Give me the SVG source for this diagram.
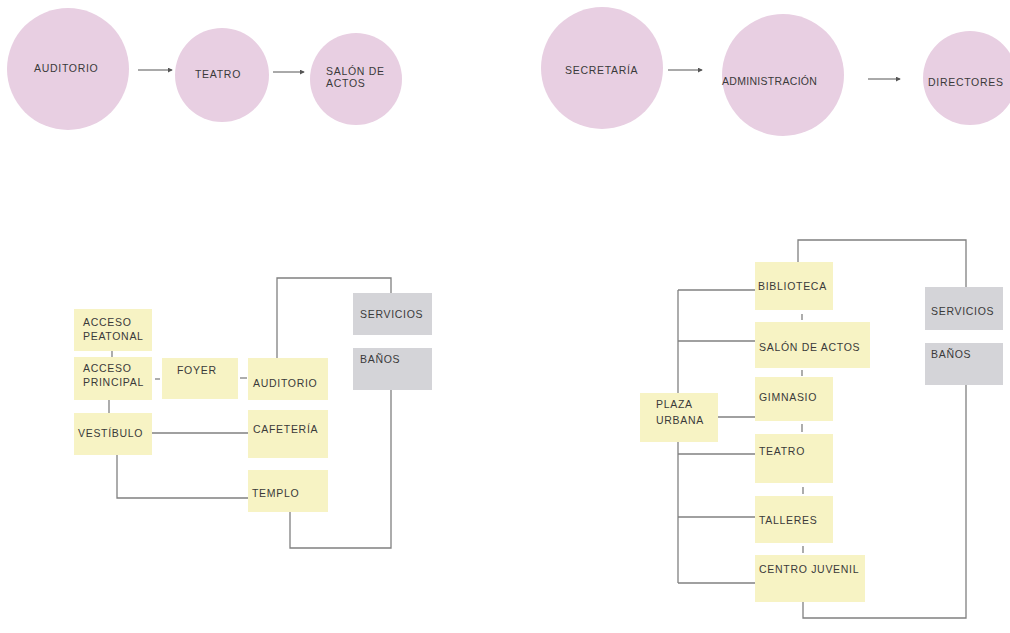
<svg xmlns="http://www.w3.org/2000/svg" width="1010" height="633" viewBox="0 0 1010 633">
<defs>
<marker id="ah" viewBox="0 0 6 6" refX="5" refY="3" markerWidth="5" markerHeight="5" orient="auto" markerUnits="userSpaceOnUse">
<path d="M0,0 L6,3 L0,6 z" fill="#555"/>
</marker>
<style>
.c{fill:#e8cfe2}
.y{fill:#f7f3c4}
.g{fill:#d4d4d8}
.t{font-family:"Liberation Sans",Arial,sans-serif;font-size:10.5px;letter-spacing:0.7px;fill:#3a3a3a}
.l{fill:none;stroke:#808080;stroke-width:1.3}
.a{fill:none;stroke:#555;stroke-width:1;marker-end:url(#ah)}
</style>
</defs>
<rect width="1010" height="633" fill="#ffffff"/>

<g id="connectors">
<line class="a" x1="138" y1="70" x2="172" y2="70"/>
<line class="a" x1="273" y1="72" x2="304" y2="72"/>
<line class="a" x1="668" y1="70" x2="702" y2="70"/>
<line class="a" x1="868" y1="79" x2="900" y2="79"/>

<!-- left bottom -->
<line class="l" x1="112" y1="351" x2="112" y2="357"/>
<line class="l" x1="155" y1="379" x2="160" y2="379"/>
<line class="l" x1="240" y1="378" x2="247" y2="378"/>
<line class="l" x1="109" y1="400" x2="109" y2="413"/>
<line class="l" x1="152" y1="433" x2="248" y2="433"/>
<polyline class="l" points="117,455 117,498 248,498"/>
<polyline class="l" points="277,358 277,278 391,278 391,293"/>
<polyline class="l" points="391,390 391,548 290,548 290,512"/>

<!-- right bottom -->
<polyline class="l" points="798,262 798,240 966,240 966,287"/>
<polyline class="l" points="966,385 966,618 803,618 803,602"/>
<line class="l" x1="802" y1="314" x2="802" y2="320"/>
<line class="l" x1="802" y1="370" x2="802" y2="376"/>
<line class="l" x1="802" y1="424" x2="802" y2="432"/>
<line class="l" x1="803" y1="487" x2="803" y2="494"/>
<line class="l" x1="803" y1="546" x2="803" y2="553"/>
<line class="l" x1="678" y1="290" x2="678" y2="393"/>
<line class="l" x1="678" y1="442" x2="678" y2="583"/>
<line class="l" x1="678" y1="290" x2="755" y2="290"/>
<line class="l" x1="678" y1="341" x2="755" y2="341"/>
<line class="l" x1="718" y1="417" x2="755" y2="417"/>
<line class="l" x1="678" y1="454" x2="755" y2="454"/>
<line class="l" x1="678" y1="517" x2="755" y2="517"/>
<line class="l" x1="678" y1="583" x2="755" y2="583"/>
</g>

<g id="n-auditorio-c"><circle class="c" cx="68" cy="69" r="61"/><text class="t" x="34" y="72">AUDITORIO</text></g>
<g id="n-teatro-c"><circle class="c" cx="222" cy="75" r="47"/><text class="t" x="195" y="78">TEATRO</text></g>
<g id="n-salon-c"><circle class="c" cx="356" cy="79" r="46"/><text class="t" x="326" y="75">SALÓN DE</text><text class="t" x="326" y="87">ACTOS</text></g>
<g id="n-secretaria"><circle class="c" cx="602" cy="68" r="61"/><text class="t" x="565" y="74">SECRETARÍA</text></g>
<g id="n-administracion"><circle class="c" cx="783" cy="75" r="61"/><text class="t" x="722" y="85" style="letter-spacing:0.3px">ADMINISTRACIÓN</text></g>
<g id="n-directores"><circle class="c" cx="970" cy="78" r="47"/><text class="t" x="928" y="86">DIRECTORES</text></g>

<g id="n-acceso-peatonal"><rect class="y" x="74" y="309" width="78" height="42"/><text class="t" x="83" y="326">ACCESO</text><text class="t" x="83" y="340">PEATONAL</text></g>
<g id="n-acceso-principal"><rect class="y" x="74" y="357" width="78" height="43"/><text class="t" x="83" y="372">ACCESO</text><text class="t" x="83" y="386">PRINCIPAL</text></g>
<g id="n-foyer"><rect class="y" x="162" y="358" width="76" height="41"/><text class="t" x="177" y="374">FOYER</text></g>
<g id="n-auditorio"><rect class="y" x="248" y="358" width="80" height="42"/><text class="t" x="253" y="387">AUDITORIO</text></g>
<g id="n-vestibulo"><rect class="y" x="74" y="413" width="78" height="42"/><text class="t" x="78" y="437">VESTÍBULO</text></g>
<g id="n-cafeteria"><rect class="y" x="248" y="410" width="80" height="48"/><text class="t" x="253" y="433">CAFETERÍA</text></g>
<g id="n-templo"><rect class="y" x="248" y="470" width="80" height="42"/><text class="t" x="252" y="497">TEMPLO</text></g>
<g id="n-servicios-l"><rect class="g" x="353" y="293" width="79" height="42"/><text class="t" x="360" y="318">SERVICIOS</text></g>
<g id="n-banos-l"><rect class="g" x="353" y="348" width="79" height="42"/><text class="t" x="360" y="363">BAÑOS</text></g>

<g id="n-biblioteca"><rect class="y" x="755" y="262" width="78" height="48"/><text class="t" x="758" y="290">BIBLIOTECA</text></g>
<g id="n-salon-actos"><rect class="y" x="755" y="322" width="115" height="46"/><text class="t" x="759" y="351">SALÓN DE ACTOS</text></g>
<g id="n-gimnasio"><rect class="y" x="755" y="377" width="78" height="44"/><text class="t" x="759" y="401">GIMNASIO</text></g>
<g id="n-teatro"><rect class="y" x="755" y="434" width="78" height="49"/><text class="t" x="759" y="455">TEATRO</text></g>
<g id="n-talleres"><rect class="y" x="755" y="496" width="78" height="47"/><text class="t" x="759" y="524">TALLERES</text></g>
<g id="n-centro-juvenil"><rect class="y" x="755" y="555" width="110" height="47"/><text class="t" x="759" y="573">CENTRO JUVENIL</text></g>
<g id="n-plaza-urbana"><rect class="y" x="640" y="393" width="78" height="49"/><text class="t" x="656" y="408">PLAZA</text><text class="t" x="656" y="424">URBANA</text></g>
<g id="n-servicios-r"><rect class="g" x="925" y="287" width="78" height="43"/><text class="t" x="931" y="315">SERVICIOS</text></g>
<g id="n-banos-r"><rect class="g" x="925" y="343" width="78" height="42"/><text class="t" x="931" y="358">BAÑOS</text></g>
</svg>
